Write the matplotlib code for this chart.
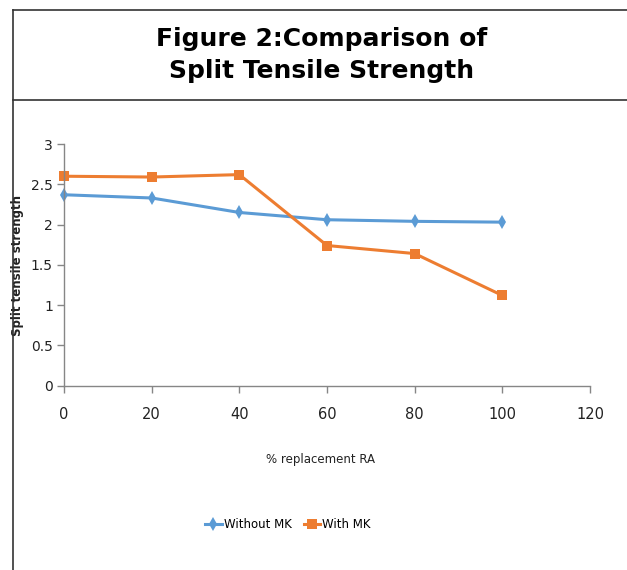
import matplotlib
matplotlib.use("Agg")
import matplotlib.pyplot as plt
from matplotlib.lines import Line2D

replacement = [0, 20, 40, 60, 80, 100]
without_mk = [2.37, 2.33, 2.15, 2.06, 2.04, 2.03]
with_mk = [2.60, 2.59, 2.62, 1.74, 1.64, 1.12]
xticks = [0, 20, 40, 60, 80, 100, 120]
yticks = [0, 0.5, 1, 1.5, 2, 2.5, 3]
ytick_labels = ["0", "0.5", "1", "1.5", "2", "2.5", "3"]

fig = plt.figure(figsize=(6.27, 5.70), dpi=100)
W, H = 627, 570

def fx(p):
    return p / W

def fy(p):
    return 1 - p / H

# frame lines
fig.add_artist(Line2D([fx(12.5), fx(12.5)], [fy(10), 0], color="#333333", lw=1.2))
fig.add_artist(Line2D([fx(12.5), 1], [fy(10), fy(10)], color="#333333", lw=1.2))
fig.add_artist(Line2D([fx(12.5), 1], [fy(100), fy(100)], color="#333333", lw=1.2))

fig.text(fx(322), fy(39), "Figure 2:Comparison of", ha="center", va="center",
         fontsize=18, fontweight="bold", family="DejaVu Sans")
fig.text(fx(322), fy(71), "Split Tensile Strength", ha="center", va="center",
         fontsize=18, fontweight="bold", family="DejaVu Sans")

ax = fig.add_axes([fx(64), fy(385.7), fx(590) - fx(64), (385.7 - 144) / H])
blue = "#5B9BD5"
orange = "#ED7D31"
ax.plot(replacement, without_mk, color=blue, lw=2.2, marker="d", ms=7, mew=0,
        label="Without MK", clip_on=False)
ax.plot(replacement, with_mk, color=orange, lw=2.2, marker="s", ms=6.5, mew=0,
        label="With MK", clip_on=False)

ax.set_xlim(0, 120)
ax.set_ylim(0, 3)
ax.set_xticks(xticks)
ax.set_yticks(yticks)
ax.set_yticklabels(ytick_labels)
for s in ["top", "right"]:
    ax.spines[s].set_visible(False)
for s in ["left", "bottom"]:
    ax.spines[s].set_color("#868686")
    ax.spines[s].set_linewidth(1)
ax.tick_params(axis="both", colors="#868686", length=5, width=1, direction="out")
ax.tick_params(axis="x", pad=10, labelcolor="#222222", labelsize=10.5)
ax.tick_params(axis="y", pad=3, labelcolor="#222222", labelsize=10)

ax.set_xlabel("% replacement RA", fontsize=8.5, color="#222222")
ax.xaxis.set_label_coords((320 - 64) / (590 - 64), -(453 - 385.7) / (385.7 - 144))
ax.set_ylabel("Split tensile strength", fontsize=8.5, fontweight="bold", family="DejaVu Sans",
              color="#222222")
ax.yaxis.set_label_coords(-(64 - 24) / (590 - 64), (385.7 - 265) / (385.7 - 144))

leg = fig.legend(loc="center", bbox_to_anchor=(fx(288), fy(525)), ncol=2, frameon=False,
                 prop={"family": "DejaVu Sans", "size": 8.5}, handlelength=1.4,
                 handletextpad=0.2, columnspacing=1.0)

fig.savefig("out.png", dpi=100)
